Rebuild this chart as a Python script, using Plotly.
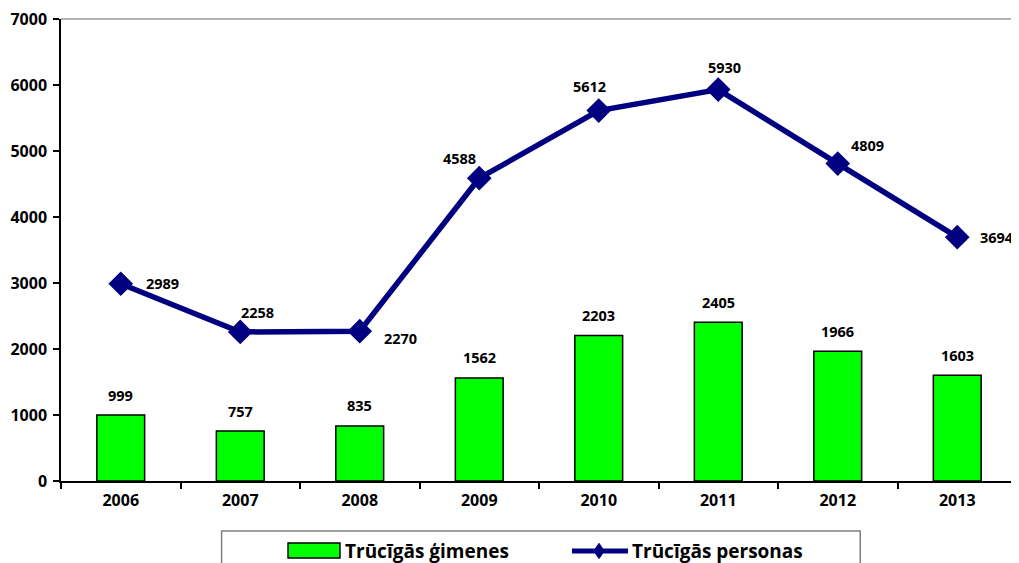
import plotly.graph_objects as go

years = ["2006", "2007", "2008", "2009", "2010", "2011", "2012", "2013"]
families = [999, 757, 835, 1562, 2203, 2405, 1966, 1603]
persons = [2989, 2258, 2270, 4588, 5612, 5930, 4809, 3694]
y_ticks = [0, 1000, 2000, 3000, 4000, 5000, 6000, 7000]
series_names = ["Trūcīgās ģimenes", "Trūcīgās personas"]

# label offsets (pixels) for the line data labels
line_xshift = [42, 17, 41, -20, -9, 6, 30, 40]
line_yshift = [0, 19, -7, 20, 24, 22, 18, 0]

FONT = "Open Sans"
GREEN = "#00FF00"
NAVY = "#000080"

fig = go.Figure()
fig.add_trace(go.Bar(
    x=years, y=families, name=series_names[0],
    marker=dict(color=GREEN, line=dict(color="black", width=1.5)),
    width=0.4,
))
fig.add_trace(go.Scatter(
    x=years, y=persons, name=series_names[1], mode="lines+markers",
    line=dict(color=NAVY, width=5.5),
    marker=dict(symbol="diamond", size=19, color=NAVY),
))

# data labels (category axis -> use category index for annotation x)
for i, v in enumerate(families):
    fig.add_annotation(x=i, y=v, xref="x", yref="y", text=f"<b>{v}</b>",
                       showarrow=False, yshift=20,
                       font=dict(family=FONT, size=14.5, color="black"))
for i, (v, dx, dy) in enumerate(zip(persons, line_xshift, line_yshift)):
    fig.add_annotation(x=i, y=v, xref="x", yref="y", text=f"<b>{v}</b>",
                       showarrow=False, xshift=dx, yshift=dy,
                       font=dict(family=FONT, size=14.5, color="black"))

# plot-area frame (top and right in grey)
fig.add_shape(type="line", xref="paper", yref="paper", x0=0, x1=1, y0=1, y1=1,
              line=dict(color="#999999", width=1.5))
fig.add_shape(type="line", xref="paper", yref="paper", x0=1, x1=1, y0=0, y1=1,
              line=dict(color="#999999", width=1.5))

# legend box (drawn manually, Excel style)
fig.add_shape(type="rect", xref="paper", yref="paper", x0=0.168, x1=0.836, y0=-0.108, y1=-0.3,
              line=dict(color="#808080", width=1.5), fillcolor="rgba(0,0,0,0)")
fig.add_shape(type="rect", xref="paper", yref="paper", x0=0.2375, x1=0.2918, y0=-0.1342, y1=-0.1667,
              line=dict(color="black", width=1.5), fillcolor=GREEN)
fig.add_annotation(x=0.2945, y=-0.1515, xref="paper", yref="paper", xanchor="left", yanchor="middle",
                   text=f"<b>{series_names[0]}</b>", showarrow=False,
                   font=dict(family=FONT, size=19, color="black"))
fig.add_shape(type="line", xref="paper", yref="paper", x0=0.5345, x1=0.5931, y0=-0.1515, y1=-0.1515,
              line=dict(color=NAVY, width=5))
cx, cy, hw, hh = 0.5628, -0.1515, 0.0055, 0.0165
fig.add_shape(type="path", xref="paper", yref="paper",
              path=f"M {cx-hw},{cy} L {cx},{cy+hh} L {cx+hw},{cy} L {cx},{cy-hh} Z",
              line=dict(color=NAVY, width=1), fillcolor=NAVY)
fig.add_annotation(x=0.5952, y=-0.1515, xref="paper", yref="paper", xanchor="left", yanchor="middle",
                   text=f"<b>{series_names[1]}</b>", showarrow=False,
                   font=dict(family=FONT, size=19, color="black"))

# page body has an 8px margin; size the figure so the plot sits where the reference has it
fig.update_layout(
    width=1011, height=555,
    margin=dict(l=53, r=2, t=11, b=82, autoexpand=False),
    plot_bgcolor="white", paper_bgcolor="white",
    font=dict(family=FONT, color="black"),
    showlegend=False,
    xaxis=dict(type="category", range=[-0.5, 7.5], tickson="boundaries",
               ticks="outside", ticklen=6, tickcolor="black", tickwidth=1.5,
               showline=True, linecolor="black", linewidth=1.5,
               tickfont=dict(family=FONT, size=16, color="black", weight="bold"),
               ticklabelstandoff=4, showgrid=False),
    yaxis=dict(range=[0, 7000], tickvals=y_ticks, ticks="outside", ticklen=6,
               tickcolor="black", tickwidth=1.5,
               showline=True, linecolor="black", linewidth=1.5,
               tickfont=dict(family=FONT, size=16, color="black", weight="bold"),
               ticklabeloverflow="allow",
               ticklabelstandoff=3, showgrid=False, zeroline=False),
)

fig.write_html("out.html")
